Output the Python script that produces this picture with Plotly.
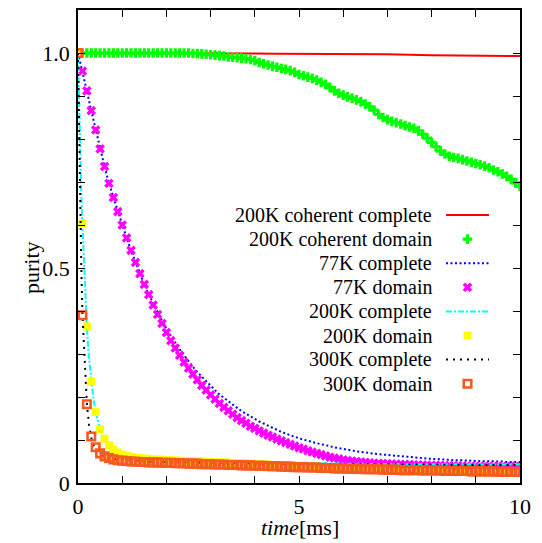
import plotly.graph_objects as go

# ---------------- data ----------------
time_ms = [0.0, 0.1, 0.2, 0.3, 0.4, 0.5, 0.6, 0.7, 0.8, 0.9,
           1.0, 1.1, 1.2, 1.3, 1.4, 1.5, 1.6, 1.7, 1.8, 1.9,
           2.0, 2.1, 2.2, 2.3, 2.4, 2.5, 2.6, 2.7, 2.8, 2.9,
           3.0, 3.1, 3.2, 3.3, 3.4, 3.5, 3.6, 3.7, 3.8, 3.9,
           4.0, 4.1, 4.2, 4.3, 4.4, 4.5, 4.6, 4.7, 4.8, 4.9,
           5.0, 5.1, 5.2, 5.3, 5.4, 5.5, 5.6, 5.7, 5.8, 5.9,
           6.0, 6.1, 6.2, 6.3, 6.4, 6.5, 6.6, 6.7, 6.8, 6.9,
           7.0, 7.1, 7.2, 7.3, 7.4, 7.5, 7.6, 7.7, 7.8, 7.9,
           8.0, 8.1, 8.2, 8.3, 8.4, 8.5, 8.6, 8.7, 8.8, 8.9,
           9.0, 9.1, 9.2, 9.3, 9.4, 9.5, 9.6, 9.7, 9.8, 9.9,
           10.0]

time_line_ms = [0, 0.025, 0.05, 0.075, 0.1, 0.15, 0.2, 0.25, 0.3, 0.35,
                0.4, 0.5, 0.6, 0.7, 0.8, 0.9, 1.0, 1.25, 1.5, 1.75,
                2, 2.5, 3, 3.5, 4, 4.5, 5, 6, 7, 8, 9, 10]

coh200_complete = [1.0, 1.0, 1.0, 1.0, 1.0, 1.0, 1.0, 1.0, 1.0, 1.0,
                   1.0, 1.0, 1.0, 1.0, 1.0, 1.0, 1.0, 1.0, 1.0, 1.0,
                   1.0, 1.0, 1.0, 0.999, 0.999, 0.998, 0.998, 0.997, 0.997,
                   0.995, 0.994, 0.993]

coh200_domain = [1.0, 1.0, 1.0, 1.0, 1.0, 1.0, 1.0, 1.0, 1.0, 1.0,
                 1.0, 1.0, 1.0, 1.0, 1.0, 1.0, 1.0, 1.0, 1.0, 1.0,
                 1.0, 1.0, 1.0, 1.0, 1.0, 1.0, 0.999, 0.999, 0.998, 0.997,
                 0.996, 0.995, 0.994, 0.993, 0.991, 0.990, 0.989, 0.988, 0.987, 0.985,
                 0.982, 0.978, 0.975, 0.972, 0.969, 0.967, 0.964, 0.962, 0.959, 0.955,
                 0.950, 0.947, 0.944, 0.941, 0.937, 0.932, 0.927, 0.920, 0.912, 0.906,
                 0.902, 0.898, 0.895, 0.891, 0.887, 0.881, 0.875, 0.867, 0.857, 0.850,
                 0.845, 0.841, 0.838, 0.835, 0.831, 0.828, 0.825, 0.819, 0.811, 0.802,
                 0.792, 0.782, 0.772, 0.765, 0.760, 0.757, 0.755, 0.752, 0.749, 0.746,
                 0.743, 0.740, 0.737, 0.733, 0.728, 0.724, 0.719, 0.713, 0.706, 0.698,
                 0.690]

k77_complete = [1.000, 0.958, 0.912, 0.866, 0.821, 0.777, 0.736, 0.697, 0.664, 0.631,
                0.600, 0.570, 0.541, 0.513, 0.487, 0.462, 0.439, 0.417, 0.396, 0.377,
                0.359, 0.342, 0.326, 0.311, 0.297, 0.283, 0.270, 0.258, 0.247, 0.236,
                0.225, 0.216, 0.206, 0.198, 0.189, 0.182, 0.174, 0.167, 0.161, 0.154,
                0.149, 0.143, 0.138, 0.133, 0.128, 0.123, 0.119, 0.115, 0.111, 0.108,
                0.104, 0.101, 0.098, 0.095, 0.093, 0.090, 0.088, 0.085, 0.083, 0.081,
                0.079, 0.077, 0.075, 0.074, 0.072, 0.071, 0.069, 0.068, 0.067, 0.066,
                0.065, 0.064, 0.063, 0.062, 0.061, 0.060, 0.059, 0.058, 0.058, 0.057,
                0.056, 0.056, 0.055, 0.054, 0.054, 0.053, 0.053, 0.053, 0.052, 0.052,
                0.051, 0.051, 0.051, 0.050, 0.050, 0.050, 0.050, 0.049, 0.049, 0.049,
                0.049]

k77_domain = [1.000, 0.958, 0.912, 0.866, 0.821, 0.777, 0.736, 0.697, 0.664, 0.631,
              0.600, 0.570, 0.541, 0.513, 0.487, 0.462, 0.438, 0.414, 0.392, 0.371,
              0.350, 0.331, 0.314, 0.297, 0.281, 0.267, 0.253, 0.240, 0.227, 0.216,
              0.205, 0.195, 0.185, 0.176, 0.168, 0.160, 0.152, 0.145, 0.139, 0.132,
              0.127, 0.121, 0.116, 0.111, 0.107, 0.102, 0.098, 0.094, 0.090, 0.086,
              0.082, 0.079, 0.075, 0.072, 0.069, 0.066, 0.063, 0.060, 0.058, 0.056,
              0.054, 0.052, 0.051, 0.050, 0.049, 0.048, 0.047, 0.046, 0.046, 0.045,
              0.045, 0.044, 0.044, 0.043, 0.043, 0.043, 0.042, 0.042, 0.042, 0.041,
              0.041, 0.041, 0.041, 0.040, 0.040, 0.040, 0.040, 0.040, 0.039, 0.039,
              0.039, 0.039, 0.039, 0.039, 0.039, 0.038, 0.038, 0.038, 0.038, 0.038,
              0.038]

k200_complete = [1.0, 0.86, 0.76, 0.67, 0.604, 0.47, 0.364, 0.29, 0.236, 0.195,
                 0.165, 0.125, 0.103, 0.088, 0.078, 0.071, 0.066, 0.060, 0.057, 0.055,
                 0.053, 0.051, 0.050, 0.049, 0.048, 0.047, 0.046, 0.045, 0.044, 0.044,
                 0.043, 0.043]

k200_domain = [1.000, 0.604, 0.364, 0.236, 0.165, 0.125, 0.103, 0.088, 0.078, 0.071,
               0.066, 0.063, 0.061, 0.059, 0.058, 0.057, 0.056, 0.055, 0.055, 0.054,
               0.053, 0.053, 0.052, 0.052, 0.051, 0.051, 0.050, 0.050, 0.050, 0.049,
               0.049, 0.048, 0.048, 0.048, 0.047, 0.047, 0.046, 0.046, 0.045, 0.045,
               0.044, 0.044, 0.043, 0.043, 0.042, 0.042, 0.041, 0.041, 0.040, 0.040,
               0.039, 0.039, 0.038, 0.038, 0.038, 0.037, 0.037, 0.036, 0.036, 0.036,
               0.035, 0.035, 0.035, 0.034, 0.034, 0.034, 0.033, 0.033, 0.033, 0.032,
               0.032, 0.032, 0.032, 0.031, 0.031, 0.031, 0.031, 0.030, 0.030, 0.030,
               0.030, 0.030, 0.029, 0.029, 0.029, 0.029, 0.029, 0.028, 0.028, 0.028,
               0.028, 0.028, 0.028, 0.027, 0.027, 0.027, 0.027, 0.027, 0.027, 0.027,
               0.026]

k300_complete = [1.0, 0.80, 0.64, 0.50, 0.395, 0.27, 0.185, 0.135, 0.105, 0.088,
                 0.078, 0.066, 0.060, 0.057, 0.055, 0.054, 0.053, 0.051, 0.050, 0.049,
                 0.049, 0.048, 0.047, 0.046, 0.046, 0.045, 0.045, 0.044, 0.043, 0.043,
                 0.042, 0.042]

k300_domain = [1.000, 0.390, 0.183, 0.108, 0.083, 0.069, 0.062, 0.058, 0.055, 0.053,
               0.052, 0.051, 0.050, 0.050, 0.049, 0.049, 0.048, 0.048, 0.048, 0.047,
               0.047, 0.047, 0.046, 0.046, 0.046, 0.045, 0.045, 0.045, 0.044, 0.044,
               0.044, 0.043, 0.043, 0.043, 0.042, 0.042, 0.042, 0.041, 0.041, 0.041,
               0.040, 0.040, 0.040, 0.039, 0.039, 0.039, 0.038, 0.038, 0.038, 0.037,
               0.037, 0.037, 0.036, 0.036, 0.036, 0.035, 0.035, 0.035, 0.034, 0.034,
               0.034, 0.033, 0.033, 0.033, 0.033, 0.032, 0.032, 0.032, 0.032, 0.031,
               0.031, 0.031, 0.031, 0.030, 0.030, 0.030, 0.030, 0.030, 0.029, 0.029,
               0.029, 0.029, 0.029, 0.028, 0.028, 0.028, 0.028, 0.028, 0.028, 0.027,
               0.027, 0.027, 0.027, 0.027, 0.027, 0.026, 0.026, 0.026, 0.026, 0.026,
               0.026]

x_tick_vals = [0, 1, 2, 3, 4, 5, 6, 7, 8, 9, 10]
x_tick_text = ["0", "", "", "", "", "5", "", "", "", "", "10"]
y_tick_vals = [0, 0.1, 0.2, 0.3, 0.4, 0.5, 0.6, 0.7, 0.8, 0.9, 1.0]
y_tick_text = ["0", "", "", "", "", "0.5", "", "", "", "", "1.0"]

labels = ["200K coherent complete", "200K coherent domain", "77K complete",
          "77K domain", "200K complete", "200K domain", "300K complete",
          "300K domain"]

# ---------------- styles ----------------
FONT = "Liberation Serif"
RED = "#ff0000"
GREEN = "#00ff00"
BLUE = "#0000ff"
MAGENTA = "#ff00ff"
CYAN = "#00ffff"
YELLOW = "#ffff00"
BLACK = "#000000"
ORANGE = "#f55a1e"

styles = [
    dict(mode="lines", line=dict(color=RED, width=2)),
    dict(mode="markers", marker=dict(symbol="cross", size=8, color=GREEN, line=dict(width=0))),
    dict(mode="lines", line=dict(color=BLUE, width=2, dash="2px,2.5px")),
    dict(mode="markers", marker=dict(symbol="x", size=8.5, color=MAGENTA, line=dict(width=0))),
    dict(mode="lines", line=dict(color=CYAN, width=2, dash="6px,2px,2px,2px")),
    dict(mode="markers", marker=dict(symbol="square", size=8, color=YELLOW, line=dict(width=0))),
    dict(mode="lines", line=dict(color=BLACK, width=2, dash="2px,5px")),
    dict(mode="markers", marker=dict(symbol="square-open", size=7.5, color=ORANGE,
                                     line=dict(width=2.6, color=ORANGE))),
]

series = [
    (time_line_ms, coh200_complete),
    (time_ms, coh200_domain),
    (time_ms, k77_complete),
    (time_ms, k77_domain),
    (time_line_ms, k200_complete),
    (time_ms, k200_domain),
    (time_line_ms, k300_complete),
    (time_ms, k300_domain),
]

fig = go.Figure()
for (xs, ys), st, name in zip(series, styles, labels):
    fig.add_trace(go.Scatter(x=xs, y=ys, name=name, showlegend=False, **st))

# ---------------- hand-made legend (gnuplot style: text, then sample on the right) ----------------
W, H = 542, 543
L, R, T, B = 78, 22, 10, 60
PW, PH = W - L - R, H - T - B
row0, dy = 215, 24.1
text_right = 434
samp_x0, samp_x1 = 446, 489
for i, (name, st) in enumerate(zip(labels, styles)):
    yy = row0 + i * dy
    if st["mode"] == "lines":
        fig.add_trace(go.Scatter(x=[samp_x0, samp_x1], y=[yy, yy], xaxis="x2", yaxis="y2",
                                 showlegend=False, hoverinfo="skip", **st))
    else:
        fig.add_trace(go.Scatter(x=[(samp_x0 + samp_x1) / 2], y=[yy], xaxis="x2", yaxis="y2",
                                 showlegend=False, hoverinfo="skip", **st))
    fig.add_annotation(x=text_right, y=yy, xref="x2", yref="y2", text=name,
                       showarrow=False, xanchor="right", yanchor="middle",
                       font=dict(family=FONT, size=20, color="black"))


def px_to_paper(px, py):
    return (px - L) / PW, (H - B - py) / PH


# axis titles (paper coordinates so they can sit outside the plot area)
xt, yt = px_to_paper(300, 541)
fig.add_annotation(x=xt, y=yt, xref="paper", yref="paper",
                   text="<i>time</i>[ms]", showarrow=False, xanchor="center", yanchor="bottom",
                   borderpad=0,
                   font=dict(family=FONT, size=22, color="black"))
xp, yp = px_to_paper(31, 268)
fig.add_annotation(x=xp, y=yp, xref="paper", yref="paper",
                   text="purity", showarrow=False, textangle=-90,
                   xanchor="center", yanchor="middle",
                   font=dict(family=FONT, size=22, color="black"))

axis_common = dict(showline=True, linecolor="black", linewidth=1.5, mirror="allticks",
                   ticks="inside", ticklen=7, tickwidth=1, tickcolor="black",
                   showgrid=False, zeroline=False, automargin=False,
                   tickfont=dict(family=FONT, size=22, color="black"))

fig.update_layout(
    width=W, height=H,
    margin=dict(l=L, r=R, t=T, b=B),
    paper_bgcolor="white", plot_bgcolor="white",
    font=dict(family=FONT, color="black"),
    xaxis=dict(range=[0, 10], tickvals=x_tick_vals, ticktext=x_tick_text,
               ticklabelstandoff=3, **axis_common),
    yaxis=dict(range=[0, 1.1], tickvals=y_tick_vals, ticktext=y_tick_text,
               ticklabelstandoff=2, **axis_common),
    xaxis2=dict(range=[L, W - R], overlaying="x", visible=False),
    yaxis2=dict(range=[H - B, T], overlaying="y", visible=False),
)

fig.write_html("out.html")
